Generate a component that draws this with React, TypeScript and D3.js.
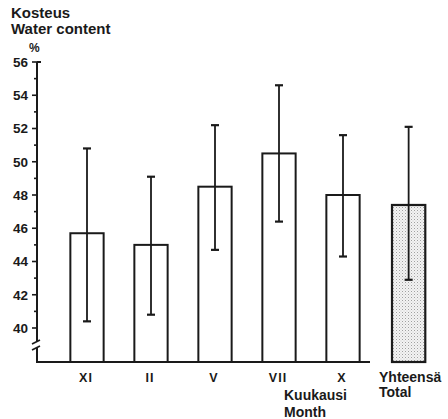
import React from "react";
import * as d3 from "d3";

const months = ["XI", "II", "V", "VII", "X"];
const monthMeans = [45.7, 45.0, 48.5, 50.5, 48.0];
const monthUpper = [50.8, 49.1, 52.2, 54.6, 51.6];
const monthLower = [40.4, 40.8, 44.7, 46.4, 44.3];

const totalLabel = ["Yhteensä", "Total"];
const totalMean = 47.4;
const totalUpper = 52.1;
const totalLower = 42.9;

const yTicks = [40, 42, 44, 46, 48, 50, 52, 54, 56];
const yMinorTicks = d3.range(40, 57, 1);

const W = 448;
const H = 419;
const axisX = 37;
const baseY = 362;
const ink = "#1a1a1a";
const font = "'Liberation Sans', Arial, sans-serif";

export default function App() {
  const y = d3.scaleLinear().domain([40, 56]).range([328, 62]);
  const x = d3.scaleBand<string>().domain(months).range([55, 375]).paddingInner(0.48).paddingOuter(0.24);
  const bw = x.bandwidth();
  const totalX = 392;

  const errorBar = (cx: number, lo: number, hi: number, key: string) => (
    <g key={key} stroke={ink} strokeWidth={1.8}>
      <line x1={cx} x2={cx} y1={y(hi)} y2={y(lo)} />
      <line x1={cx - 4} x2={cx + 4} y1={y(hi)} y2={y(hi)} strokeWidth={2.2} />
      <line x1={cx - 4} x2={cx + 4} y1={y(lo)} y2={y(lo)} strokeWidth={2.2} />
    </g>
  );

  return (
    <svg width={W} height={H} style={{ position: "absolute", left: 0, top: 0, background: "#fff" }}
      fontFamily={font} fontWeight="bold" fill={ink}>
      <defs>
        <pattern id="stipple" width="3" height="3" patternUnits="userSpaceOnUse">
          <rect width="3" height="3" fill="#f3f3f3" />
          <rect x="0" y="0" width="1" height="1" fill="#a0a0a0" />
          <rect x="1.5" y="1.5" width="1" height="1" fill="#cacaca" />
        </pattern>
      </defs>

      {/* titles */}
      <text x={11} y={18} fontSize={15}>Kosteus</text>
      <text x={11} y={34} fontSize={15}>Water content</text>
      <text x={29} y={52} fontSize={12}>%</text>

      {/* y axis with break */}
      <g stroke={ink} strokeWidth={2} fill="none">
        <line x1={axisX} x2={axisX} y1={y(56)} y2={342} />
        <line x1={axisX} x2={axisX} y1={348} y2={baseY} />
        <line x1={axisX - 5} x2={axisX + 3} y1={344} y2={340} strokeWidth={1.6} />
        <line x1={axisX - 5} x2={axisX + 3} y1={350} y2={346} strokeWidth={1.6} />
        <line x1={axisX} x2={axisX + 4} y1={y(56)} y2={y(56)} />
        {yMinorTicks.map((v) => (
          <line key={v} x1={axisX - (v % 2 === 0 ? 5 : 3)} x2={axisX} y1={y(v)} y2={y(v)} strokeWidth={1.6} />
        ))}
        <line x1={axisX - 1} x2={370} y1={baseY} y2={baseY} />
      </g>
      {yTicks.map((v) => (
        <text key={v} x={axisX - 9} y={y(v)} dy="0.36em" textAnchor="end" fontSize={13.5}>{v}</text>
      ))}

      {/* monthly bars */}
      {months.map((m, i) => {
        const x0 = x(m)!;
        return (
          <g key={m}>
            <rect x={x0} y={y(monthMeans[i])} width={bw} height={baseY - y(monthMeans[i])}
              fill="#fff" stroke={ink} strokeWidth={2} />
            {errorBar(x0 + bw / 2, monthLower[i], monthUpper[i], m + "e")}
            <text x={x0 + bw / 2 - 1} y={382} textAnchor="middle" fontSize={12.5} letterSpacing={1}>{m}</text>
          </g>
        );
      })}

      {/* overall bar */}
      <rect x={totalX} y={y(totalMean)} width={bw} height={baseY - y(totalMean)}
        fill="url(#stipple)" stroke={ink} strokeWidth={2.2} />
      {errorBar(totalX + bw / 2, totalLower, totalUpper, "te")}

      <text x={284} y={400} fontSize={14}>Kuukausi</text>
      <text x={284} y={417} fontSize={14}>Month</text>
      <text x={379} y={382} fontSize={14}>{totalLabel[0]}</text>
      <text x={379} y={397} fontSize={14}>{totalLabel[1]}</text>
    </svg>
  );
}
